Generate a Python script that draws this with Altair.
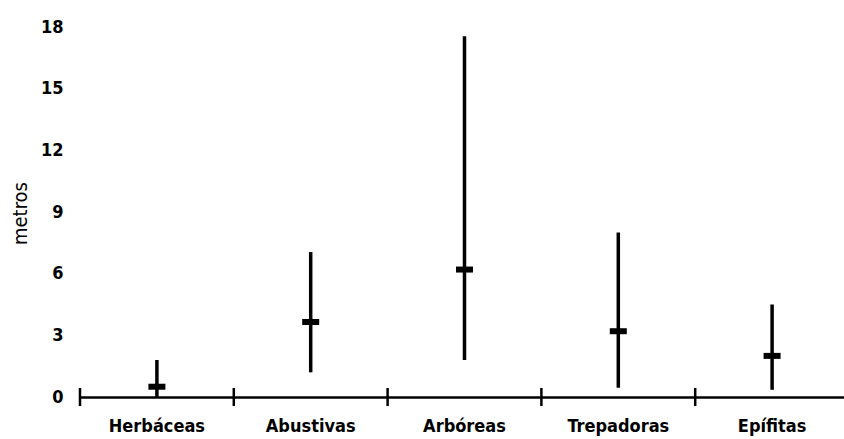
import altair as alt
import pandas as pd

categories = ["Herbáceas", "Abustivas", "Arbóreas", "Trepadoras", "Epífitas"]
low_vals = [0.0, 1.2, 1.8, 0.45, 0.35]
high_vals = [1.8, 7.05, 17.55, 8.0, 4.5]
mean_vals = [0.5, 3.65, 6.2, 3.2, 2.0]
y_ticks = [0, 3, 6, 9, 12, 15, 18]

df = pd.DataFrame({"cat": categories, "low": low_vals, "high": high_vals, "mean": mean_vals})

FONT = "DejaVu Sans Condensed, DejaVu Sans"

xscale = alt.Scale(domain=categories, range=[0, 769], paddingInner=0, paddingOuter=0)
yscale = alt.Scale(domain=[0, 18], nice=False, zero=True)

x_axis = alt.Axis(
    title=None, labelAngle=0, labelAlign="center", domainColor="black", domainWidth=2.5,
    ticks=False, tickSize=0,
    labelFont=FONT, labelFontWeight="bold", labelFontSize=18, labelColor="black",
    labelPadding=29, grid=False,
)
y_axis = alt.Axis(
    title="metros", values=y_ticks, domain=False, ticks=False, tickSize=0, grid=False,
    labelFont=FONT, labelFontWeight="bold", labelFontSize=18, labelColor="black",
    labelPadding=17,
    titleFont=FONT, titleFontWeight="normal", titleFontSize=20, titleColor="black",
    titleX=-60, titleY=186, titleAngle=270, titleAlign="center", titleBaseline="middle",
)

base = alt.Chart(df)

bars = base.mark_rule(color="black", strokeWidth=3.5).encode(
    x=alt.X("cat:N", scale=xscale, axis=x_axis, sort=categories),
    y=alt.Y("low:Q", scale=yscale, axis=y_axis),
    y2="high:Q",
)

means = base.mark_tick(color="black", size=17, thickness=6, opacity=1).encode(
    x=alt.X("cat:N", scale=xscale, sort=categories),
    y=alt.Y("mean:Q", scale=yscale),
)

septicks = base.mark_rule(color="black", strokeWidth=2.5).encode(
    x=alt.X("cat:N", scale=xscale, sort=categories, bandPosition=0),
    y=alt.datum(-0.44, scale=yscale),
    y2=alt.datum(0.44),
)

chart = alt.layer(septicks, bars, means).properties(
    width=764, height=370,
    autosize=alt.AutoSizeParams(type="none"),
    padding={"left": 80, "top": 27, "right": 0, "bottom": 42},
    background="white",
).configure_view(stroke=None)

chart.save("out.html", embed_options={"renderer": "svg", "actions": False})
